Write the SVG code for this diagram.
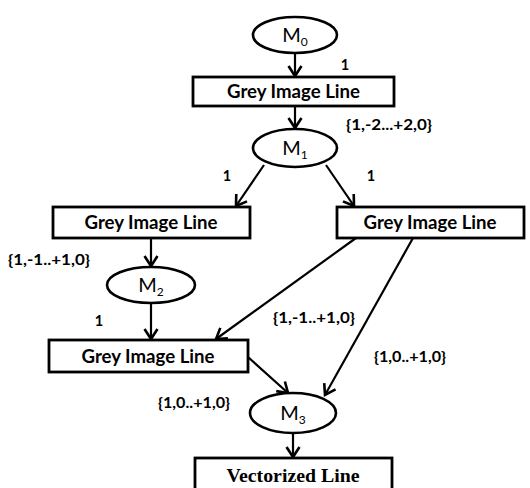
<svg xmlns="http://www.w3.org/2000/svg" width="530" height="488" viewBox="0 0 530 488">
<defs>
<marker id="arr" markerUnits="userSpaceOnUse" markerWidth="20" markerHeight="20" viewBox="-12 -10 14 20" refX="0" refY="0" orient="auto" overflow="visible">
<path d="M-10,-6.5 L0,0 L-10,6.5" fill="none" stroke="#000" stroke-width="2.6" stroke-linejoin="miter"/>
</marker>
<style>
.box{fill:#fff;stroke:#000;stroke-width:2.8}
.ell{fill:#fff;stroke:#000;stroke-width:2.6}
.lbl{font-family:Lato,"Liberation Sans",sans-serif;font-weight:bold;font-size:19px;fill:#000;text-anchor:middle}
.m{font-family:Lato,"Liberation Sans",sans-serif;font-size:20px;fill:#000;text-anchor:middle}
.sub{font-size:12px}
.w{font-family:Lato,"Liberation Sans",sans-serif;font-weight:bold;font-size:14.5px;fill:#000;text-anchor:middle}
.vl{font-family:"Liberation Serif",serif;font-weight:bold;font-size:19.5px;fill:#000;text-anchor:middle}
.c{fill:none;stroke:#000;stroke-width:2.2;marker-end:url(#arr)}
</style>
</defs>
<rect width="530" height="488" fill="#fff"/>
<g id="connectors">
<line class="c" x1="295" y1="53" x2="295" y2="76"/>
<line class="c" x1="295" y1="106" x2="295" y2="128"/>
<line class="c" x1="264" y1="165" x2="236" y2="206"/>
<line class="c" x1="326" y1="165" x2="354" y2="206"/>
<line class="c" x1="151" y1="238" x2="151" y2="266"/>
<line class="c" x1="151" y1="303" x2="151" y2="339"/>
<line class="c" x1="356" y1="238" x2="216" y2="339"/>
<line class="c" x1="413" y1="238" x2="325" y2="395"/>
<line class="c" x1="248" y1="357" x2="288" y2="393"/>
<line class="c" x1="293" y1="433" x2="293" y2="457"/>
<text class="w" x="345" y="70">1</text>
<text class="w" x="389" y="130" textLength="86" lengthAdjust="spacingAndGlyphs">{1,-2...+2,0}</text>
<text class="w" x="227" y="181">1</text>
<text class="w" x="371" y="181">1</text>
<text class="w" x="49" y="265" textLength="82" lengthAdjust="spacingAndGlyphs">{1,-1..+1,0}</text>
<text class="w" x="99" y="326">1</text>
<text class="w" x="314" y="323" textLength="82" lengthAdjust="spacingAndGlyphs">{1,-1..+1,0}</text>
<text class="w" x="410" y="362" textLength="72" lengthAdjust="spacingAndGlyphs">{1,0..+1,0}</text>
<text class="w" x="194" y="408" textLength="72" lengthAdjust="spacingAndGlyphs">{1,0..+1,0}</text>
</g>
<g id="M0">
<ellipse class="ell" cx="295" cy="35" rx="42" ry="18"/>
<text class="m" x="295" y="42">M<tspan class="sub" dy="4">0</tspan></text>
</g>
<g id="gil1">
<rect class="box" x="193" y="77" width="201" height="29"/>
<text class="lbl" x="293.5" y="98" textLength="133" lengthAdjust="spacingAndGlyphs">Grey Image Line</text>
</g>
<g id="M1">
<ellipse class="ell" cx="295" cy="148" rx="42" ry="19"/>
<text class="m" x="295" y="155">M<tspan class="sub" dy="4">1</tspan></text>
</g>
<g id="gil2">
<rect class="box" x="53" y="207" width="197" height="31"/>
<text class="lbl" x="151" y="229" textLength="133" lengthAdjust="spacingAndGlyphs">Grey Image Line</text>
</g>
<g id="gil3">
<rect class="box" x="337" y="207" width="187" height="31"/>
<text class="lbl" x="430" y="229" textLength="133" lengthAdjust="spacingAndGlyphs">Grey Image Line</text>
</g>
<g id="M2">
<ellipse class="ell" cx="151" cy="285" rx="44" ry="18"/>
<text class="m" x="151" y="292">M<tspan class="sub" dy="4">2</tspan></text>
</g>
<g id="gil4">
<rect class="box" x="49" y="340" width="199" height="32"/>
<text class="lbl" x="148" y="363" textLength="133" lengthAdjust="spacingAndGlyphs">Grey Image Line</text>
</g>
<g id="M3">
<ellipse class="ell" cx="293" cy="413" rx="43" ry="20"/>
<text class="m" x="293" y="420">M<tspan class="sub" dy="4">3</tspan></text>
</g>
<g id="vec">
<rect class="box" x="195" y="458" width="197" height="40"/>
<text class="vl" x="293" y="482" textLength="133" lengthAdjust="spacingAndGlyphs">Vectorized Line</text>
</g>
</svg>
